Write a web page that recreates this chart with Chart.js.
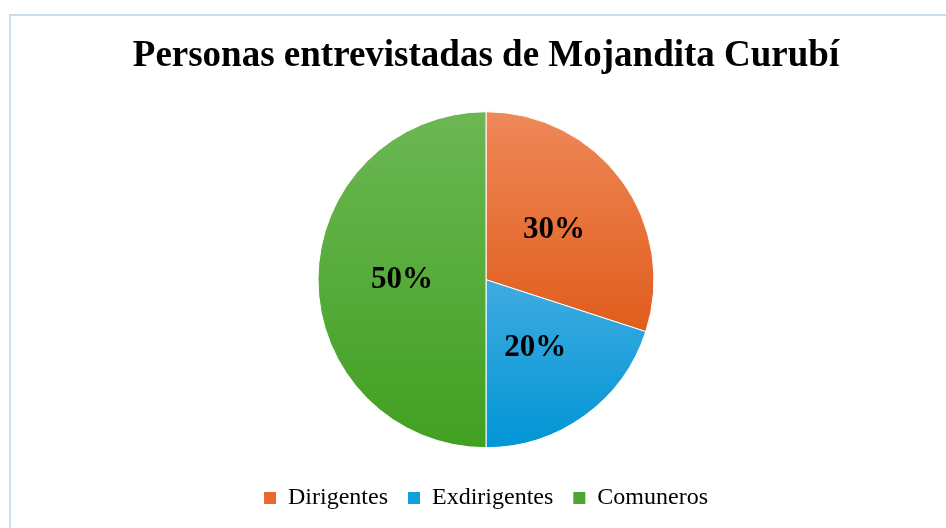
<!DOCTYPE html>
<html lang="es">
<head>
<meta charset="utf-8">
<title>Personas entrevistadas de Mojandita Curubí</title>
<script src="https://cdn.jsdelivr.net/npm/chart.js@4"></script>
<style>
  html, body { margin: 0; padding: 0; background: #fff; overflow: hidden; }
  #wrap { position: relative; width: 946px; height: 528px; }
  #frame {
    position: absolute; left: 9px; top: 14px; width: 1000px; height: 600px;
    border: 2px solid #cadcf1; pointer-events: none;
  }
</style>
</head>
<body>
<div id="wrap">
  <canvas id="pieChart"></canvas>
  <div id="frame"></div>
</div>
<script>
// datos
const categorias = ['Dirigentes', 'Exdirigentes', 'Comuneros'];
const porcentajes = [30, 20, 50];
const coloresArriba = ['#ef8858', '#40abe1', '#6cb754'];
const coloresAbajo = ['#e05d1c', '#0096d5', '#41a021'];
const coloresLeyenda = ['#ea6a2d', '#10a0dc', '#4ca62f'];

// degradado vertical por porción, como en Excel
function degradado(context) {
  const chart = context.chart;
  const i = context.dataIndex;
  const area = chart.chartArea;
  if (!area || i === undefined) return coloresAbajo[i || 0];
  const cy = (area.top + area.bottom) / 2;
  const r = Math.min(168, Math.min(area.right - area.left, area.bottom - area.top) / 2);
  const total = porcentajes.reduce((a, b) => a + b, 0);
  let a0 = -Math.PI / 2;
  for (let k = 0; k < i; k++) a0 += porcentajes[k] / total * Math.PI * 2;
  const a1 = a0 + porcentajes[i] / total * Math.PI * 2;
  const ys = [cy, cy + r * Math.sin(a0), cy + r * Math.sin(a1)];
  if (a0 <= Math.PI / 2 && a1 >= Math.PI / 2) ys.push(cy + r);
  if (a0 <= -Math.PI / 2 + 1e-6 || a1 >= Math.PI * 1.5 - 1e-6) ys.push(cy - r);
  const g = chart.ctx.createLinearGradient(0, Math.min(...ys), 0, Math.max(...ys));
  g.addColorStop(0, coloresArriba[i]);
  g.addColorStop(1, coloresAbajo[i]);
  return g;
}

// etiquetas de porcentaje dentro de cada porción
const etiquetasPorcentaje = {
  id: 'etiquetasPorcentaje',
  afterDatasetsDraw(chart) {
    const ctx = chart.ctx;
    const meta = chart.getDatasetMeta(0);
    ctx.save();
    ctx.font = 'bold 31px "Liberation Serif", "Times New Roman", serif';
    ctx.fillStyle = '#000';
    ctx.textAlign = 'center';
    ctx.textBaseline = 'middle';
    meta.data.forEach((arc, i) => {
      const pos = arc.tooltipPosition();
      ctx.fillText(porcentajes[i] + '%', pos.x, pos.y);
    });
    ctx.restore();
  }
};

const ctx = document.getElementById('pieChart').getContext('2d');
new Chart(ctx, {
  type: 'pie',
  data: {
    labels: categorias,
    datasets: [{
      data: porcentajes,
      backgroundColor: degradado,
      borderColor: '#ffffff',
      borderWidth: 1,
      radius: 168
    }]
  },
  options: {
    responsive: true,
    maintainAspectRatio: false,
    animation: false,
    layout: { padding: { left: 26, right: 0, top: 0, bottom: 8 } },
    plugins: {
      title: {
        display: true,
        text: 'Personas entrevistadas de Mojandita Curubí',
        color: '#000',
        font: { family: '"Liberation Serif", "Times New Roman", serif', size: 37, weight: 'bold' },
        padding: { top: 34, bottom: 15 }
      },
      legend: {
        position: 'bottom',
        labels: {
          color: '#000',
          boxWidth: 12,
          boxHeight: 12,
          padding: 20,
          font: { family: '"Liberation Serif", "Times New Roman", serif', size: 24 },
          generateLabels(chart) {
            const items = Chart.overrides.pie.plugins.legend.labels.generateLabels(chart);
            items.forEach((it, i) => {
              it.fillStyle = coloresLeyenda[i];
              it.strokeStyle = coloresLeyenda[i];
              it.lineWidth = 0;
            });
            return items;
          }
        }
      },
      tooltip: { enabled: false }
    }
  },
  plugins: [etiquetasPorcentaje]
});
</script>
</body>
</html>
